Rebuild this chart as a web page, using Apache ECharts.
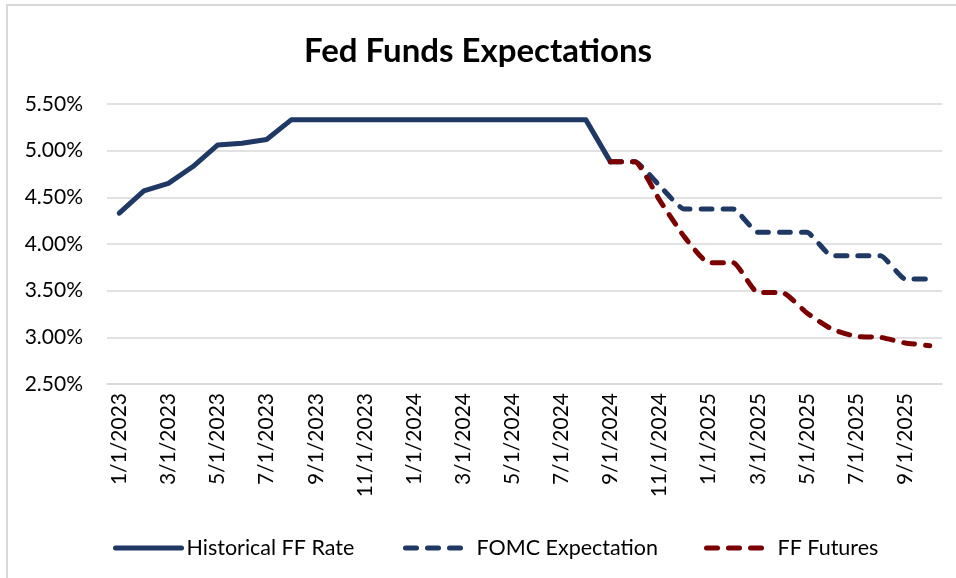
<!DOCTYPE html>
<html>
<head>
<meta charset="utf-8">
<script src="https://cdn.jsdelivr.net/npm/echarts@6/dist/echarts.min.js"></script>
<style>
  html, body { margin: 0; padding: 0; background: #fff; }
  .frame { position: absolute; left: 6px; top: 4px; width: 960px; height: 590px;
           border-left: 2px solid #d9d9d9; border-top: 2px solid #d9d9d9; }
  #chart { position: absolute; left: 0; top: 0; width: 956px; height: 578px; }
</style>
</head>
<body>
<div class="frame"></div>
<div id="chart"></div>
<script>
// monthly categories, Jan 2023 .. Oct 2025
const months = [
  '1/1/2023','2/1/2023','3/1/2023','4/1/2023','5/1/2023','6/1/2023',
  '7/1/2023','8/1/2023','9/1/2023','10/1/2023','11/1/2023','12/1/2023',
  '1/1/2024','2/1/2024','3/1/2024','4/1/2024','5/1/2024','6/1/2024',
  '7/1/2024','8/1/2024','9/1/2024','10/1/2024','11/1/2024','12/1/2024',
  '1/1/2025','2/1/2025','3/1/2025','4/1/2025','5/1/2025','6/1/2025',
  '7/1/2025','8/1/2025','9/1/2025','10/1/2025'
];

// Historical FF Rate, 1/2023 .. 9/2024
const histRate = [4.33, 4.57, 4.65, 4.83, 5.06, 5.08, 5.12,
  5.33, 5.33, 5.33, 5.33, 5.33, 5.33, 5.33, 5.33, 5.33, 5.33, 5.33, 5.33, 5.33,
  4.88];
// FOMC Expectation, 9/2024 .. 10/2025
const fomcExp = [4.88, 4.88, 4.625, 4.375, 4.375, 4.375, 4.125, 4.125, 4.125,
  3.875, 3.875, 3.875, 3.625, 3.625];
// FF Futures, 9/2024 .. 10/2025
const ffFutures = [4.88, 4.88, 4.47, 4.08, 3.80, 3.80, 3.48, 3.48, 3.26,
  3.09, 3.01, 3.00, 2.94, 2.91];

const startForecast = 20; // 9/1/2024
const pad = (arr, offset) => Array(offset).fill(null).concat(arr);

const navy = '#1f3864';
const maroon = '#7b0000';
const font = 'Lato, "Open Sans", sans-serif';

const myChart = echarts.init(document.getElementById('chart'), null, { renderer: 'canvas' });

const legendBase = {
  top: 532,
  itemWidth: 66,
  itemHeight: 8,
  itemStyle: { opacity: 0 },
  lineStyle: { width: 5, cap: 'round' },
  textStyle: { fontFamily: font, fontSize: 21.5, color: '#000' }
};

const option = {
  animation: false,
  title: {
    text: 'Fed Funds Expectations',
    left: 'center',
    top: 30,
    textStyle: { fontFamily: font, fontSize: 33, fontWeight: 'bold', color: '#000' }
  },
  legend: [
    Object.assign({ left: 108, data: ['Historical FF Rate'] }, legendBase),
    Object.assign({ left: 398, data: ['FOMC Expectation'] }, legendBase),
    Object.assign({ left: 699, data: ['FF Futures'] }, legendBase)
  ],
  grid: { left: 107, right: 14, top: 104, bottom: 194 },
  xAxis: {
    type: 'category',
    data: months,
    boundaryGap: true,
    axisLine: { lineStyle: { color: '#d9d9d9', width: 1.5 } },
    axisTick: { interval: 1, length: 6, lineStyle: { color: '#d9d9d9', width: 1.5 } },
    axisLabel: {
      interval: 1,
      rotate: 90,
      margin: 9,
      fontFamily: font,
      fontSize: 21,
      color: '#000'
    },
    splitLine: { show: false }
  },
  yAxis: {
    type: 'value',
    min: 2.5,
    max: 5.5,
    interval: 0.5,
    axisLine: { show: false },
    axisTick: { show: false },
    axisLabel: {
      margin: 24,
      fontFamily: font,
      fontSize: 21,
      color: '#000',
      formatter: v => v.toFixed(2) + '%'
    },
    splitLine: { lineStyle: { color: '#d9d9d9', width: 1.5 } }
  },
  series: [
    {
      name: 'Historical FF Rate',
      type: 'line',
      data: histRate,
      symbol: 'none',
      color: navy,
      lineStyle: { color: navy, width: 5, cap: 'round', join: 'round' },
      z: 3
    },
    {
      name: 'FOMC Expectation',
      type: 'line',
      data: pad(fomcExp, startForecast),
      symbol: 'none',
      smooth: 0.15,
      color: navy,
      lineStyle: { color: navy, width: 5, type: [11, 11], cap: 'round', join: 'round' },
      z: 2
    },
    {
      name: 'FF Futures',
      type: 'line',
      data: pad(ffFutures, startForecast),
      symbol: 'none',
      smooth: 0.15,
      color: maroon,
      lineStyle: { color: maroon, width: 5, type: [11, 11], cap: 'round', join: 'round' },
      z: 4
    }
  ]
};

myChart.setOption(option);
window.addEventListener('resize', () => {
  myChart.resize();
});
</script>
</body>
</html>
